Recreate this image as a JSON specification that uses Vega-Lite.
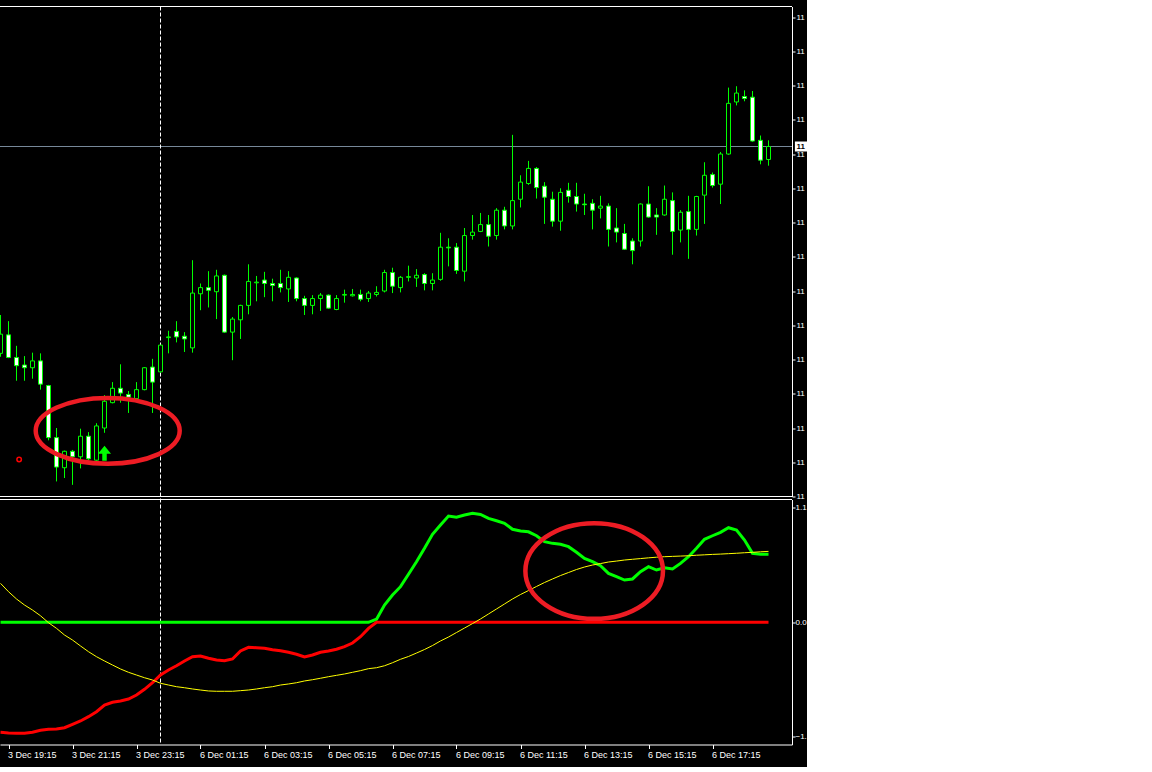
{
  "$schema": "https://vega.github.io/schema/vega-lite/v6.json",
  "autosize": {"type": "none"},
  "width": 792,
  "height": 738,
  "padding": {"left": 0, "top": 6.5, "right": 15, "bottom": 22.5},
  "background": "#000000",
  "config": {
    "view": {"stroke": null},
    "axis": {"labelFont": "Liberation Sans", "labelFontSize": 9, "labelColor": "#ffffff", "domainColor": "#ffffff", "tickColor": "#ffffff", "domainWidth": 1, "tickWidth": 1, "grid": false}
  },
  "datasets": {
    "bars": [
      {"i":-1,"t":"3 Dec 19:00","o":113.009,"h":113.065,"l":113.004,"c":113.037,"up":0,"dn":-1.056,"sig":0.374},
      {"i":0,"t":"3 Dec 19:15","o":113.036,"h":113.056,"l":113.002,"c":113.003,"up":0,"dn":-1.062,"sig":0.294},
      {"i":1,"t":"3 Dec 19:30","o":113.003,"h":113.020,"l":112.969,"c":112.991,"up":0,"dn":-1.065,"sig":0.224},
      {"i":2,"t":"3 Dec 19:45","o":112.992,"h":113.005,"l":112.969,"c":112.988,"up":0,"dn":-1.065,"sig":0.166},
      {"i":3,"t":"3 Dec 20:00","o":112.988,"h":113.010,"l":112.972,"c":112.998,"up":0,"dn":-1.056,"sig":0.118},
      {"i":4,"t":"3 Dec 20:15","o":112.998,"h":113.009,"l":112.956,"c":112.964,"up":0,"dn":-1.036,"sig":0.063},
      {"i":5,"t":"3 Dec 20:30","o":112.962,"h":112.963,"l":112.882,"c":112.886,"up":0,"dn":-1.027,"sig":-0.004},
      {"i":6,"t":"3 Dec 20:45","o":112.886,"h":112.900,"l":112.822,"c":112.843,"up":0,"dn":-1.024,"sig":-0.058},
      {"i":7,"t":"3 Dec 21:00","o":112.842,"h":112.867,"l":112.827,"c":112.866,"up":0,"dn":-1.012,"sig":-0.122},
      {"i":8,"t":"3 Dec 21:15","o":112.866,"h":112.868,"l":112.817,"c":112.858,"up":0,"dn":-0.979,"sig":-0.170},
      {"i":9,"t":"3 Dec 21:30","o":112.858,"h":112.899,"l":112.841,"c":112.888,"up":0,"dn":-0.947,"sig":-0.227},
      {"i":10,"t":"3 Dec 21:45","o":112.888,"h":112.894,"l":112.853,"c":112.855,"up":0,"dn":-0.906,"sig":-0.282},
      {"i":11,"t":"3 Dec 22:00","o":112.853,"h":112.907,"l":112.852,"c":112.903,"up":0,"dn":-0.858,"sig":-0.330},
      {"i":12,"t":"3 Dec 22:15","o":112.900,"h":112.948,"l":112.893,"c":112.939,"up":0,"dn":-0.794,"sig":-0.371},
      {"i":13,"t":"3 Dec 22:30","o":112.937,"h":112.967,"l":112.936,"c":112.958,"up":0,"dn":-0.768,"sig":-0.410},
      {"i":14,"t":"3 Dec 22:45","o":112.958,"h":112.993,"l":112.937,"c":112.951,"up":0,"dn":-0.755,"sig":-0.448},
      {"i":15,"t":"3 Dec 23:00","o":112.949,"h":112.954,"l":112.922,"c":112.945,"up":0,"dn":-0.736,"sig":-0.480},
      {"i":16,"t":"3 Dec 23:15","o":112.943,"h":112.967,"l":112.942,"c":112.956,"up":0,"dn":-0.698,"sig":-0.506},
      {"i":17,"t":"3 Dec 23:30","o":112.956,"h":112.989,"l":112.955,"c":112.988,"up":0,"dn":-0.643,"sig":-0.532},
      {"i":18,"t":"3 Dec 23:45","o":112.989,"h":113.001,"l":112.922,"c":112.967,"up":0,"dn":-0.580,"sig":-0.554},
      {"i":19,"t":"6 Dec 00:00","o":112.982,"h":113.021,"l":112.981,"c":113.021,"up":0,"dn":-0.506,"sig":-0.585},
      {"i":20,"t":"6 Dec 00:15","o":113.032,"h":113.042,"l":113.009,"c":113.033,"up":0,"dn":-0.458,"sig":-0.602},
      {"i":21,"t":"6 Dec 00:30","o":113.041,"h":113.056,"l":113.025,"c":113.033,"up":0,"dn":-0.417,"sig":-0.618},
      {"i":22,"t":"6 Dec 00:45","o":113.034,"h":113.040,"l":113.011,"c":113.030,"up":0,"dn":-0.371,"sig":-0.628},
      {"i":23,"t":"6 Dec 01:00","o":113.017,"h":113.145,"l":113.010,"c":113.097,"up":0,"dn":-0.330,"sig":-0.640},
      {"i":24,"t":"6 Dec 01:15","o":113.096,"h":113.111,"l":113.072,"c":113.105,"up":0,"dn":-0.323,"sig":-0.650},
      {"i":25,"t":"6 Dec 01:30","o":113.105,"h":113.129,"l":113.076,"c":113.101,"up":0,"dn":-0.345,"sig":-0.659},
      {"i":26,"t":"6 Dec 01:45","o":113.099,"h":113.131,"l":113.059,"c":113.122,"up":0,"dn":-0.362,"sig":-0.662},
      {"i":27,"t":"6 Dec 02:00","o":113.123,"h":113.124,"l":113.039,"c":113.040,"up":0,"dn":-0.369,"sig":-0.662},
      {"i":28,"t":"6 Dec 02:15","o":113.040,"h":113.062,"l":112.999,"c":113.059,"up":0,"dn":-0.352,"sig":-0.662},
      {"i":29,"t":"6 Dec 02:30","o":113.058,"h":113.080,"l":113.030,"c":113.079,"up":0,"dn":-0.275,"sig":-0.656},
      {"i":30,"t":"6 Dec 02:45","o":113.079,"h":113.139,"l":113.066,"c":113.114,"up":0,"dn":-0.240,"sig":-0.650},
      {"i":31,"t":"6 Dec 03:00","o":113.112,"h":113.122,"l":113.085,"c":113.113,"up":0,"dn":-0.244,"sig":-0.640},
      {"i":32,"t":"6 Dec 03:15","o":113.116,"h":113.128,"l":113.091,"c":113.111,"up":0,"dn":-0.250,"sig":-0.628},
      {"i":33,"t":"6 Dec 03:30","o":113.111,"h":113.118,"l":113.085,"c":113.108,"up":0,"dn":-0.263,"sig":-0.618},
      {"i":34,"t":"6 Dec 03:45","o":113.111,"h":113.131,"l":113.098,"c":113.105,"up":0,"dn":-0.273,"sig":-0.602},
      {"i":35,"t":"6 Dec 04:00","o":113.103,"h":113.129,"l":113.084,"c":113.120,"up":0,"dn":-0.288,"sig":-0.592},
      {"i":36,"t":"6 Dec 04:15","o":113.119,"h":113.120,"l":113.085,"c":113.089,"up":0,"dn":-0.307,"sig":-0.580},
      {"i":37,"t":"6 Dec 04:30","o":113.089,"h":113.093,"l":113.065,"c":113.079,"up":0,"dn":-0.333,"sig":-0.563},
      {"i":38,"t":"6 Dec 04:45","o":113.079,"h":113.094,"l":113.066,"c":113.089,"up":0,"dn":-0.314,"sig":-0.551},
      {"i":39,"t":"6 Dec 05:00","o":113.089,"h":113.097,"l":113.071,"c":113.094,"up":0,"dn":-0.288,"sig":-0.537},
      {"i":40,"t":"6 Dec 05:15","o":113.094,"h":113.095,"l":113.074,"c":113.075,"up":0,"dn":-0.275,"sig":-0.522},
      {"i":41,"t":"6 Dec 05:30","o":113.073,"h":113.094,"l":113.072,"c":113.089,"up":0,"dn":-0.259,"sig":-0.509},
      {"i":42,"t":"6 Dec 05:45","o":113.094,"h":113.102,"l":113.083,"c":113.095,"up":0,"dn":-0.234,"sig":-0.496},
      {"i":43,"t":"6 Dec 06:00","o":113.093,"h":113.103,"l":113.092,"c":113.095,"up":0,"dn":-0.199,"sig":-0.480},
      {"i":44,"t":"6 Dec 06:15","o":113.095,"h":113.102,"l":113.085,"c":113.088,"up":0,"dn":-0.138,"sig":-0.464},
      {"i":45,"t":"6 Dec 06:30","o":113.089,"h":113.100,"l":113.084,"c":113.097,"up":0,"dn":-0.058,"sig":-0.445},
      {"i":46,"t":"6 Dec 06:45","o":113.095,"h":113.107,"l":113.092,"c":113.098,"up":0.030,"dn":0,"sig":-0.436},
      {"i":47,"t":"6 Dec 07:00","o":113.100,"h":113.131,"l":113.098,"c":113.127,"up":0.166,"dn":0,"sig":-0.417},
      {"i":48,"t":"6 Dec 07:15","o":113.127,"h":113.134,"l":113.097,"c":113.107,"up":0.262,"dn":0,"sig":-0.388},
      {"i":49,"t":"6 Dec 07:30","o":113.105,"h":113.122,"l":113.098,"c":113.120,"up":0.342,"dn":0,"sig":-0.355},
      {"i":50,"t":"6 Dec 07:45","o":113.120,"h":113.137,"l":113.114,"c":113.121,"up":0.461,"dn":0,"sig":-0.328},
      {"i":51,"t":"6 Dec 08:00","o":113.119,"h":113.132,"l":113.106,"c":113.123,"up":0.582,"dn":0,"sig":-0.295},
      {"i":52,"t":"6 Dec 08:15","o":113.124,"h":113.126,"l":113.101,"c":113.111,"up":0.710,"dn":0,"sig":-0.261},
      {"i":53,"t":"6 Dec 08:30","o":113.111,"h":113.126,"l":113.101,"c":113.116,"up":0.845,"dn":0,"sig":-0.223},
      {"i":54,"t":"6 Dec 08:45","o":113.117,"h":113.185,"l":113.115,"c":113.164,"up":0.934,"dn":0,"sig":-0.179},
      {"i":55,"t":"6 Dec 09:00","o":113.164,"h":113.177,"l":113.136,"c":113.163,"up":1.020,"dn":0,"sig":-0.141},
      {"i":56,"t":"6 Dec 09:15","o":113.164,"h":113.170,"l":113.125,"c":113.130,"up":1.008,"dn":0,"sig":-0.098},
      {"i":57,"t":"6 Dec 09:30","o":113.129,"h":113.192,"l":113.114,"c":113.181,"up":1.030,"dn":0,"sig":-0.055},
      {"i":58,"t":"6 Dec 09:45","o":113.181,"h":113.211,"l":113.175,"c":113.186,"up":1.046,"dn":0,"sig":-0.012},
      {"i":59,"t":"6 Dec 10:00","o":113.187,"h":113.214,"l":113.186,"c":113.197,"up":1.036,"dn":0,"sig":0.032},
      {"i":60,"t":"6 Dec 10:15","o":113.197,"h":113.211,"l":113.165,"c":113.180,"up":0.998,"dn":0,"sig":0.080},
      {"i":61,"t":"6 Dec 10:30","o":113.181,"h":113.221,"l":113.175,"c":113.218,"up":0.975,"dn":0,"sig":0.128},
      {"i":62,"t":"6 Dec 10:45","o":113.218,"h":113.223,"l":113.190,"c":113.195,"up":0.950,"dn":0,"sig":0.176},
      {"i":63,"t":"6 Dec 11:00","o":113.195,"h":113.328,"l":113.190,"c":113.232,"up":0.893,"dn":0,"sig":0.224},
      {"i":64,"t":"6 Dec 11:15","o":113.234,"h":113.269,"l":113.222,"c":113.259,"up":0.876,"dn":0,"sig":0.267},
      {"i":65,"t":"6 Dec 11:30","o":113.257,"h":113.290,"l":113.255,"c":113.279,"up":0.869,"dn":0,"sig":0.305},
      {"i":66,"t":"6 Dec 11:45","o":113.279,"h":113.281,"l":113.235,"c":113.251,"up":0.831,"dn":0,"sig":0.344},
      {"i":67,"t":"6 Dec 12:00","o":113.253,"h":113.259,"l":113.198,"c":113.237,"up":0.774,"dn":0,"sig":0.382},
      {"i":68,"t":"6 Dec 12:15","o":113.234,"h":113.245,"l":113.194,"c":113.202,"up":0.758,"dn":0,"sig":0.416},
      {"i":69,"t":"6 Dec 12:30","o":113.202,"h":113.250,"l":113.188,"c":113.244,"up":0.749,"dn":0,"sig":0.449},
      {"i":70,"t":"6 Dec 12:45","o":113.247,"h":113.258,"l":113.229,"c":113.238,"up":0.726,"dn":0,"sig":0.478},
      {"i":71,"t":"6 Dec 13:00","o":113.238,"h":113.258,"l":113.216,"c":113.227,"up":0.672,"dn":0,"sig":0.507},
      {"i":72,"t":"6 Dec 13:15","o":113.227,"h":113.242,"l":113.211,"c":113.226,"up":0.614,"dn":0,"sig":0.531},
      {"i":73,"t":"6 Dec 13:30","o":113.228,"h":113.234,"l":113.190,"c":113.218,"up":0.582,"dn":0,"sig":0.550},
      {"i":74,"t":"6 Dec 13:45","o":113.221,"h":113.239,"l":113.206,"c":113.224,"up":0.543,"dn":0,"sig":0.564},
      {"i":75,"t":"6 Dec 14:00","o":113.224,"h":113.228,"l":113.165,"c":113.190,"up":0.470,"dn":0,"sig":0.579},
      {"i":76,"t":"6 Dec 14:15","o":113.192,"h":113.221,"l":113.171,"c":113.186,"up":0.438,"dn":0,"sig":0.588},
      {"i":77,"t":"6 Dec 14:30","o":113.184,"h":113.198,"l":113.160,"c":113.161,"up":0.406,"dn":0,"sig":0.598},
      {"i":78,"t":"6 Dec 14:45","o":113.173,"h":113.177,"l":113.139,"c":113.159,"up":0.416,"dn":0,"sig":0.605},
      {"i":79,"t":"6 Dec 15:00","o":113.173,"h":113.228,"l":113.165,"c":113.227,"up":0.486,"dn":0,"sig":0.612},
      {"i":80,"t":"6 Dec 15:15","o":113.227,"h":113.253,"l":113.207,"c":113.208,"up":0.534,"dn":0,"sig":0.619},
      {"i":81,"t":"6 Dec 15:30","o":113.211,"h":113.221,"l":113.182,"c":113.208,"up":0.502,"dn":0,"sig":0.625},
      {"i":82,"t":"6 Dec 15:45","o":113.211,"h":113.254,"l":113.210,"c":113.234,"up":0.524,"dn":0,"sig":0.630},
      {"i":83,"t":"6 Dec 16:00","o":113.232,"h":113.244,"l":113.153,"c":113.187,"up":0.512,"dn":0,"sig":0.633},
      {"i":84,"t":"6 Dec 16:15","o":113.189,"h":113.218,"l":113.171,"c":113.215,"up":0.566,"dn":0,"sig":0.636},
      {"i":85,"t":"6 Dec 16:30","o":113.216,"h":113.239,"l":113.147,"c":113.190,"up":0.630,"dn":0,"sig":0.639},
      {"i":86,"t":"6 Dec 16:45","o":113.190,"h":113.239,"l":113.181,"c":113.238,"up":0.710,"dn":0,"sig":0.644},
      {"i":87,"t":"6 Dec 17:00","o":113.240,"h":113.288,"l":113.198,"c":113.269,"up":0.797,"dn":0,"sig":0.648},
      {"i":88,"t":"6 Dec 17:15","o":113.270,"h":113.273,"l":113.251,"c":113.254,"up":0.831,"dn":0,"sig":0.652},
      {"i":89,"t":"6 Dec 17:30","o":113.256,"h":113.303,"l":113.227,"c":113.300,"up":0.864,"dn":0,"sig":0.655},
      {"i":90,"t":"6 Dec 17:45","o":113.300,"h":113.397,"l":113.299,"c":113.374,"up":0.908,"dn":0,"sig":0.659},
      {"i":91,"t":"6 Dec 18:00","o":113.376,"h":113.399,"l":113.371,"c":113.389,"up":0.886,"dn":0,"sig":0.663},
      {"i":92,"t":"6 Dec 18:15","o":113.384,"h":113.393,"l":113.377,"c":113.381,"up":0.790,"dn":0,"sig":0.668},
      {"i":93,"t":"6 Dec 18:30","o":113.383,"h":113.392,"l":113.318,"c":113.319,"up":0.662,"dn":0,"sig":0.672},
      {"i":94,"t":"6 Dec 18:45","o":113.320,"h":113.327,"l":113.285,"c":113.291,"up":0.653,"dn":0,"sig":0.677},
      {"i":95,"t":"6 Dec 19:00","o":113.292,"h":113.320,"l":113.283,"c":113.311,"up":0.653,"dn":0,"sig":0.681}
    ]
  },
  "layer": [
    {
      "data": {"values": [{"p": 113.5154}, {"p": 112.8}]},
      "mark": {"type": "rule", "color": "#ffffff", "strokeWidth": 1, "clip": false},
      "encoding": {
        "y": {"field": "p", "type": "quantitative", "scale": {"domain": [112.8, 113.5154], "range": [490, 0], "nice": false, "zero": false}, "axis": null}
      }
    },
    {
      "data": {"values": [{"v": 1.179}]},
      "mark": {"type": "rule", "color": "#ffffff", "strokeWidth": 1, "clip": false},
      "encoding": {
        "y": {"field": "v", "type": "quantitative", "scale": {"domain": [-1.173, 1.179], "range": [738, 493], "nice": false, "zero": false}, "axis": null}
      }
    },
    {
      "data": {"values": [{"bid": 113.311}]},
      "mark": {"type": "rule", "color": "#778899", "strokeWidth": 1, "clip": false},
      "encoding": {
        "y": {"field": "bid", "type": "quantitative", "scale": {"domain": [112.8, 113.5154], "range": [490, 0], "nice": false, "zero": false}, "axis": null}
      }
    },
    {
      "data": {"values": [{"i": 19}]},
      "mark": {"type": "rule", "color": "#ffffff", "strokeWidth": 1, "strokeDash": [4, 2], "clip": false},
      "encoding": {
        "x": {
          "field": "i", "type": "quantitative",
          "scale": {"domain": [-1.0625, 97.9375], "nice": false, "zero": false, "padding": 0},
          "axis": {
            "orient": "bottom", "title": null,
            "values": [0, 8, 16, 24, 32, 40, 48, 56, 64, 72, 80, 88],
            "labelExpr": "['3 Dec 19:15','3 Dec 21:15','3 Dec 23:15','6 Dec 01:15','6 Dec 03:15','6 Dec 05:15','6 Dec 07:15','6 Dec 09:15','6 Dec 11:15','6 Dec 13:15','6 Dec 15:15','6 Dec 17:15'][datum.value / 8]",
            "labelAlign": "left", "labelBaseline": "top", "labelPadding": 2, "labelOffset": -1,
            "tickSize": 4, "labelFlush": false, "labelOverlap": false
          }
        }
      }
    },
    {
      "data": {"name": "bars"},
      "mark": {"type": "rule", "color": "#00ff00", "strokeWidth": 1, "clip": true},
      "encoding": {
        "x": {"field": "i", "type": "quantitative", "scale": {"domain": [-1.0625, 97.9375], "nice": false, "zero": false, "padding": 0}, "axis": null},
        "y": {
          "field": "l", "type": "quantitative",
          "scale": {"domain": [112.8, 113.5154], "range": [490, 0], "nice": false, "zero": false},
          "axis": {
            "orient": "right", "title": null,
            "values": [112.8, 112.85, 112.9, 112.95, 113, 113.05, 113.1, 113.15, 113.2, 113.25, 113.3, 113.35, 113.4, 113.45, 113.5],
            "format": ".3f", "labelExpr": "substring(datum.label, 0, 2)", "labelFontSize": 8,
            "tickSize": 3, "labelPadding": 1, "labelAlign": "left", "labelBaseline": "middle",
            "labelFlush": false, "labelOverlap": false
          }
        },
        "y2": {"field": "h"}
      }
    },
    {
      "data": {"name": "bars"},
      "mark": {"type": "bar", "width": 4, "stroke": "#00ff00", "strokeWidth": 1, "clip": true, "opacity": 1},
      "encoding": {
        "x": {"field": "i", "type": "quantitative", "scale": {"domain": [-1.0625, 97.9375], "nice": false, "zero": false, "padding": 0}, "axis": null},
        "y": {"field": "o", "type": "quantitative", "scale": {"domain": [112.8, 113.5154], "range": [490, 0], "nice": false, "zero": false}, "axis": null},
        "y2": {"field": "c"},
        "fill": {"condition": {"test": "datum.c < datum.o", "value": "#ffffff"}, "value": "#000000"}
      }
    },
    {
      "data": {"values": [{"i": 98.3, "i2": 102, "bid": 113.311}]},
      "mark": {"type": "rect", "fill": "#ffffff", "clip": false, "yOffset": -5, "y2Offset": 5},
      "encoding": {
        "x": {"field": "i", "type": "quantitative", "scale": {"domain": [-1.0625, 97.9375], "nice": false, "zero": false, "padding": 0}, "axis": null},
        "x2": {"field": "i2"},
        "y": {"field": "bid", "type": "quantitative", "scale": {"domain": [112.8, 113.5154], "range": [490, 0], "nice": false, "zero": false}, "axis": null},
        "y2": {"field": "bid"}
      }
    },
    {
      "data": {"values": [{"i": 98.5, "bid": 113.311}]},
      "mark": {"type": "text", "color": "#000000", "font": "Liberation Sans", "fontSize": 8, "fontWeight": "bold", "align": "left", "baseline": "middle", "clip": false, "text": {"expr": "substring(format(datum.bid, '.3f'), 0, 2)"}},
      "encoding": {
        "x": {"field": "i", "type": "quantitative", "scale": {"domain": [-1.0625, 97.9375], "nice": false, "zero": false, "padding": 0}, "axis": null},
        "y": {"field": "bid", "type": "quantitative", "scale": {"domain": [112.8, 113.5154], "range": [490, 0], "nice": false, "zero": false}, "axis": null}
      }
    },
    {
      "data": {"values": [{"i": 12.4, "p": 112.8959}]},
      "mark": {"type": "point", "shape": "M1,0C1,0.2524,0.5523,0.457,0,0.457C-0.5523,0.457,-1,0.2524,-1,0C-1,-0.2524,-0.5523,-0.457,0,-0.457C0.5523,-0.457,1,-0.2524,1,0Z", "size": 20736, "filled": false, "stroke": "#ed1c24", "strokeWidth": 4.5, "opacity": 1, "clip": false},
      "encoding": {
        "x": {"field": "i", "type": "quantitative", "scale": {"domain": [-1.0625, 97.9375], "nice": false, "zero": false, "padding": 0}, "axis": null},
        "y": {"field": "p", "type": "quantitative", "scale": {"domain": [112.8, 113.5154], "range": [490, 0], "nice": false, "zero": false}, "axis": null}
      }
    },
    {
      "data": {"values": [{"i": 12, "p": 112.8632}]},
      "mark": {"type": "point", "shape": "M0,-1L0.87,0.07L0.3,0.07L0.3,1L-0.3,1L-0.3,0.07L-0.87,0.07Z", "size": 225, "filled": true, "fill": "#00ff00", "strokeWidth": 0, "opacity": 1, "clip": false},
      "encoding": {
        "x": {"field": "i", "type": "quantitative", "scale": {"domain": [-1.0625, 97.9375], "nice": false, "zero": false, "padding": 0}, "axis": null},
        "y": {"field": "p", "type": "quantitative", "scale": {"domain": [112.8, 113.5154], "range": [490, 0], "nice": false, "zero": false}, "axis": null}
      }
    },
    {
      "data": {"values": [{"i": 1.33, "p": 112.854}]},
      "mark": {"type": "point", "shape": "circle", "size": 20, "filled": false, "stroke": "#ff0000", "strokeWidth": 1.5, "opacity": 1, "clip": false},
      "encoding": {
        "x": {"field": "i", "type": "quantitative", "scale": {"domain": [-1.0625, 97.9375], "nice": false, "zero": false, "padding": 0}, "axis": null},
        "y": {"field": "p", "type": "quantitative", "scale": {"domain": [112.8, 113.5154], "range": [490, 0], "nice": false, "zero": false}, "axis": null}
      }
    },
    {
      "data": {"name": "bars"},
      "mark": {"type": "line", "color": "#00ff00", "strokeWidth": 3, "clip": true},
      "encoding": {
        "x": {"field": "i", "type": "quantitative", "scale": {"domain": [-1.0625, 97.9375], "nice": false, "zero": false, "padding": 0}, "axis": null},
        "y": {
          "field": "up", "type": "quantitative",
          "scale": {"domain": [-1.173, 1.179], "range": [738, 493], "nice": false, "zero": false},
          "axis": {
            "orient": "right", "title": null, "values": [1.1, 0, -1.1], "format": ".4f",
            "labelExpr": "substring(datum.label, 0, 3)", "labelFontSize": 8,
            "tickSize": 3, "labelPadding": 0, "labelAlign": "left", "labelBaseline": "middle",
            "labelFlush": false, "labelOverlap": false
          }
        }
      }
    },
    {
      "data": {"name": "bars"},
      "mark": {"type": "line", "color": "#ff0000", "strokeWidth": 3, "clip": true},
      "encoding": {
        "x": {"field": "i", "type": "quantitative", "scale": {"domain": [-1.0625, 97.9375], "nice": false, "zero": false, "padding": 0}, "axis": null},
        "y": {"field": "dn", "type": "quantitative", "scale": {"domain": [-1.173, 1.179], "range": [738, 493], "nice": false, "zero": false}, "axis": null}
      }
    },
    {
      "data": {"name": "bars"},
      "mark": {"type": "line", "color": "#ffff00", "strokeWidth": 1, "clip": true},
      "encoding": {
        "x": {"field": "i", "type": "quantitative", "scale": {"domain": [-1.0625, 97.9375], "nice": false, "zero": false, "padding": 0}, "axis": null},
        "y": {"field": "sig", "type": "quantitative", "scale": {"domain": [-1.173, 1.179], "range": [738, 493], "nice": false, "zero": false}, "axis": null}
      }
    },
    {
      "data": {"values": [{"i": 73.21, "v": 0.4924}]},
      "mark": {"type": "point", "shape": "M1,0C1,0.3839,0.5523,0.695,0,0.695C-0.5523,0.695,-1,0.3839,-1,0C-1,-0.3839,-0.5523,-0.695,0,-0.695C0.5523,-0.695,1,-0.3839,1,0Z", "size": 18934, "filled": false, "stroke": "#ed1c24", "strokeWidth": 4.5, "opacity": 1, "clip": false},
      "encoding": {
        "x": {"field": "i", "type": "quantitative", "scale": {"domain": [-1.0625, 97.9375], "nice": false, "zero": false, "padding": 0}, "axis": null},
        "y": {"field": "v", "type": "quantitative", "scale": {"domain": [-1.173, 1.179], "range": [738, 493], "nice": false, "zero": false}, "axis": null}
      }
    }
  ],
  "resolve": {"scale": {"y": "independent"}, "axis": {"x": "independent"}}
}
